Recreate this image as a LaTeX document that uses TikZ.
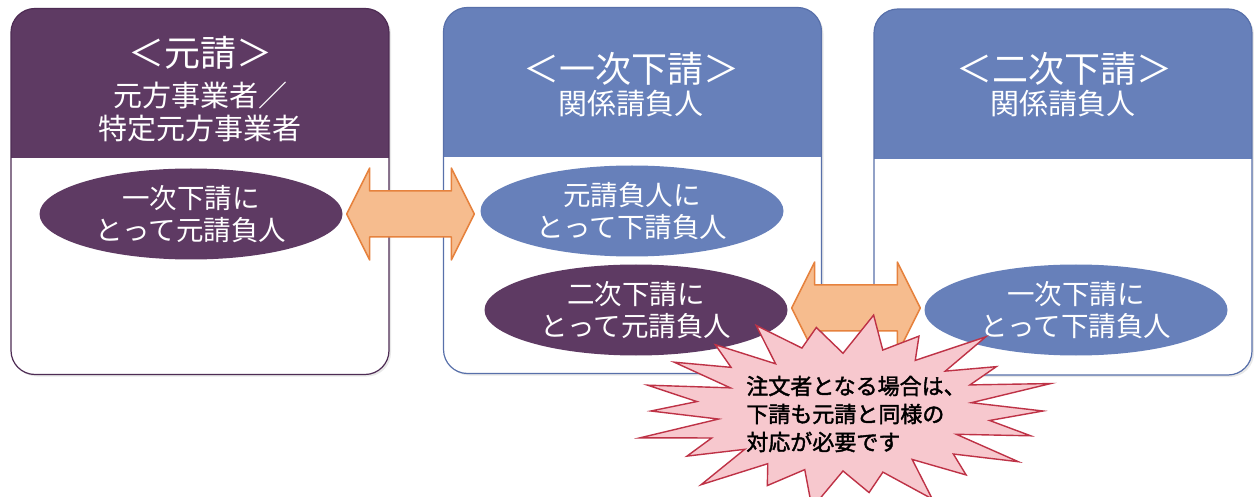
\documentclass[tikz,border=0pt]{standalone}
\usepackage{fontspec}
\newfontfamily\jp{Noto Sans CJK JP}
\newfontfamily\jpb{Noto Sans CJK JP}[FakeBold=1.8]
\usetikzlibrary{calc,shadows,shapes.geometric}
\definecolor{hdpurple}{RGB}{94,58,99}
\definecolor{hdblue}{RGB}{103,128,186}
\definecolor{bdpurple}{RGB}{78,44,84}
\definecolor{bdblue}{RGB}{88,112,170}
\definecolor{arrowline}{RGB}{230,130,62}
\definecolor{arrowlight}{RGB}{252,226,206}
\definecolor{arrowdark}{RGB}{246,188,142}
\definecolor{burstfill}{RGB}{247,200,206}
\definecolor{burstline}{RGB}{190,50,70}
\newcommand\dblarrow[2]{%
  \draw[dblarr] (#1) -- ($(#1)+(23,-46)$) -- ($(#1)+(23,-23)$) -- ($(#2)+(-23,-23)$)
   -- ($(#2)+(-23,-46)$) -- (#2) -- ($(#2)+(-23,46)$) -- ($(#2)+(-23,23)$)
   -- ($(#1)+(23,23)$) -- ($(#1)+(23,46)$) -- cycle;}
\begin{document}
\begin{tikzpicture}[x=1pt,y=-1pt,
  box/.style 2 args={draw=#1,line width=1.2pt,rounded corners=24pt,fill=white,
    minimum width=378pt,minimum height=366pt,inner sep=0pt,
    drop shadow={opacity=0.18,shadow xshift=2pt,shadow yshift=-2pt},
    path picture={\fill[#2,sharp corners] (path picture bounding box.north west) rectangle ([yshift=-150pt]path picture bounding box.north east);}},
  title/.style={text=white,inner sep=0pt,font=\jp\fontsize{36}{40}\selectfont},
  sub/.style={text=white,inner sep=0pt,align=center,font=\jp\fontsize{29}{33}\selectfont},
  ell/.style={ellipse,fill=#1,text=white,minimum width=303pt,minimum height=91pt,
    inner sep=0pt,align=center,font=\jp\fontsize{27.5}{32}\selectfont},
  dblarr/.style={draw=arrowline,line width=1.5pt,line join=round,
    top color=arrowdark,middle color=arrowlight,bottom color=arrowdark},
  burst/.style={draw=burstline,fill=burstfill,line width=1.4pt,line join=miter},
  bursttext/.style={text=black,inner sep=0pt,align=left,font=\jpb\fontsize{22}{28}\selectfont}
]
\fill[white] (0,0) rectangle (1254,497);
\useasboundingbox (0,0) rectangle (1254,497);

% boxes
\node[box={bdpurple}{hdpurple}] (b1) at (200,191.5) {};
\node[box={bdblue}{hdblue}] (b2) at (632.5,190.5) {};
\node[box={bdblue}{hdblue}] (b3) at (1063,192) {};

% header texts
\node[title] (t1) at (200,53) {＜元請＞};
\node[sub] (s1) at (200,112) {元方事業者／\\特定元方事業者};
\node[title] (t2) at (631,69) {＜一次下請＞};
\node[sub] (s2) at (631,104) {関係請負人};
\node[title] (t3) at (1064,69) {＜二次下請＞};
\node[sub] (s3) at (1063,104) {関係請負人};

% ellipses
\node[ell=hdpurple] (e1) at (191,214) {一次下請に\\とって元請負人};
\node[ell=hdblue] (e2) at (632,211) {元請負人に\\とって下請負人};
\node[ell=hdpurple] (e3) at (636,310) {二次下請に\\とって元請負人};
\node[ell=hdblue] (e4) at (1076,310) {一次下請に\\とって下請負人};

% double arrows
\coordinate (a1l) at ($(e1.east)+(4,0)$);
\coordinate (a1r) at ($(a1l -| e2.west)+(-6,0)$);
\dblarrow{a1l}{a1r}
\coordinate (a2l) at ($(e3.east)+(4,-2)$);
\coordinate (a2r) at ($(a2l -| e4.west)+(-4,0)$);
\dblarrow{a2l}{a2r}

% starburst
\coordinate (bc) at (843,411);
\draw[burst] ($(bc)+(0:200 and 90)$)
  \foreach \k in {1,...,43}{
    \pgfextra{\pgfmathsetmacro\a{\k*360/44}%
      \pgfmathsetmacro\f{(mod(\k,2)==0 ? 1 : 0.68)*(1+0.09*sin(\k*97))}}
    -- ($(bc)+(\a:{200*\f} and {90*\f})$)
  } -- cycle;
\node[bursttext] (note) at ($(bc)+(13,3)$) {注文者となる場合は、\\下請も元請と同様の\\対応が必要です};
\end{tikzpicture}
\end{document}
